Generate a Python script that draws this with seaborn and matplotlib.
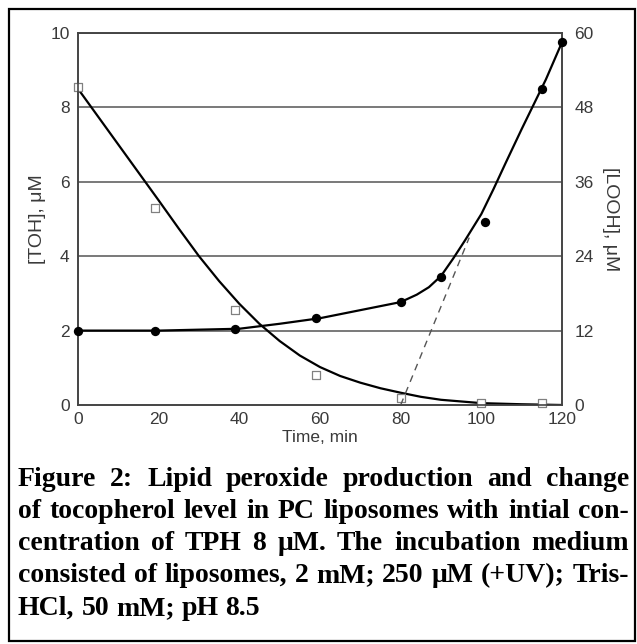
import matplotlib
matplotlib.use("Agg")
import matplotlib.pyplot as plt
import seaborn as sns

# --- data ---
toh_time = [0, 19, 39, 59, 80, 100, 115]
toh_conc = [8.55, 5.3, 2.55, 0.8, 0.2, 0.05, 0.05]

# smooth tocopherol decay curve drawn in the figure
toh_fit_time = [0, 5, 10, 15, 20, 25, 30, 35, 40, 45, 50, 55, 60, 65, 70,
                75, 80, 85, 90, 100, 110, 120]
toh_fit_conc = [8.5, 7.75, 7.0, 6.25, 5.5, 4.74, 4.0, 3.33, 2.72, 2.18, 1.72,
                1.33, 1.02, 0.78, 0.6, 0.45, 0.33, 0.22, 0.14, 0.05, 0.02, 0.0]

looh_time = [0, 19, 39, 59, 80, 90, 101, 115, 120]
looh_conc = [12, 11.9, 12.3, 14.1, 16.6, 20.6, 29.5, 51, 58.5]

# smooth hydroperoxide curve drawn in the figure
looh_fit_time = [0, 20, 40, 50, 60, 70, 80, 84, 87, 90, 93, 96, 100, 103, 106,
                 110, 113, 116, 120]
looh_fit_conc = [12, 12, 12.3, 13.1, 14.0, 15.3, 16.6, 17.8, 19.0, 20.8, 23.6,
                 26.6, 30.8, 34.8, 39.0, 44.5, 48.5, 52.5, 58.5]

tangent_time = [80, 97]
tangent_conc = [0, 27]

x_ticks = [0, 20, 40, 60, 80, 100, 120]
left_ticks = [0, 2, 4, 6, 8, 10]
right_ticks = [0, 12, 24, 36, 48, 60]

caption_lines = [
    "Figure 2: Lipid peroxide production and change",
    "of tocopherol level in PC liposomes with intial con-",
    "centration of TPH 8 μM. The incubation medium",
    "consisted of liposomes, 2 mM; 250 μM (+UV); Tris-",
    "HCl, 50 mM; pH 8.5",
]

sns.set_theme(style="white")
plt.rcParams["font.family"] = ["Liberation Sans", "DejaVu Sans"]

fig = plt.figure(figsize=(6.37, 6.44), dpi=100)
ax = fig.add_axes([78 / 637, 1 - 405 / 644, 484 / 637, 372 / 644])
ax2 = ax.twinx()

grid_c = "#555555"
txt_c = "#3a3a3a"

# tocopherol (left axis)
sns.lineplot(x=toh_fit_time, y=toh_fit_conc, ax=ax, color="black", lw=1.6, zorder=3)
sns.scatterplot(x=toh_time, y=toh_conc, ax=ax, marker="s", s=26, facecolor="white",
                edgecolor="#808080", linewidth=0.9, zorder=4, clip_on=False)

# hydroperoxides (right axis)
sns.lineplot(x=tangent_time, y=tangent_conc, ax=ax2, color="#555555", lw=1.0,
             linestyle=(0, (5, 4)), zorder=2)
sns.lineplot(x=looh_fit_time, y=looh_fit_conc, ax=ax2, color="black", lw=1.6, zorder=3)
sns.scatterplot(x=looh_time, y=looh_conc, ax=ax2, color="black", s=45,
                linewidth=0, zorder=4, clip_on=False)

ax.set_xlim(0, 120)
ax.set_ylim(0, 10)
ax2.set_ylim(0, 60)
ax.set_xticks(x_ticks)
ax.set_yticks(left_ticks)
ax2.set_yticks(right_ticks)

ax.grid(False)
ax2.grid(False)
for v in left_ticks[1:]:
    ax.axhline(v, color=grid_c, lw=1.1, zorder=1)

for a in (ax, ax2):
    for sp in a.spines.values():
        sp.set_color("#444444")
        sp.set_linewidth(1.2)

ax.tick_params(axis="x", direction="in", length=6, width=1, color="#444444",
               labelsize=12.5, labelcolor=txt_c, pad=5)
ax.tick_params(axis="y", length=0, labelsize=12.5, labelcolor=txt_c, pad=6)
ax2.tick_params(axis="y", length=0, labelsize=12.5, labelcolor=txt_c, pad=9)

ax.set_xlabel("Time, min", fontsize=12.5, color=txt_c, labelpad=2)
ax.set_ylabel("[TOH], μM", fontsize=14, color=txt_c, labelpad=3)
ax2.set_ylabel("[LOOH], μM", fontsize=14, color=txt_c, rotation=270, labelpad=18)

# outer frame
fig.patches.append(plt.Rectangle((9 / 637, 3 / 644), 626 / 637, 632 / 644,
                                 transform=fig.transFigure, fill=False,
                                 edgecolor="black", lw=1.6))

# justified caption
renderer = fig.canvas.get_renderer()
cap_font = ["Liberation Serif", "DejaVu Serif"]
x_left, x_right = 18, 629
baselines = [486, 518, 550, 582, 615]
cap_size = 20


def text_width(s, size):
    t = fig.text(0, 0, s, fontsize=size, family=cap_font, fontweight="bold")
    w = t.get_window_extent(renderer).width
    t.remove()
    return w


for i, line in enumerate(caption_lines):
    words = line.split(" ")
    y = 1 - baselines[i] / 644
    last = i == len(caption_lines) - 1
    size = cap_size
    while True:
        widths = [text_width(w, size) for w in words]
        sp_w = size * 100 / 72 * 0.25
        gap = sp_w if last else (x_right - x_left - sum(widths)) / (len(words) - 1)
        if gap >= sp_w * 0.5 or size < 12:
            break
        size -= 0.25
    xpos = x_left
    for w, wd in zip(words, widths):
        fig.text(xpos / 637, y, w, fontsize=size, fontweight="bold", family=cap_font,
                 color="black", va="baseline")
        xpos += wd + gap

fig.savefig("out.png", dpi=100)
